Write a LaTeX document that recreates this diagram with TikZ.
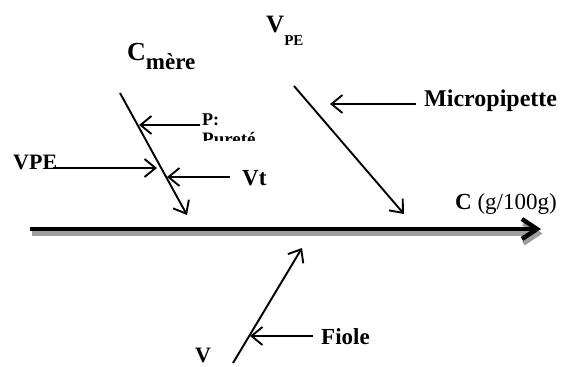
\documentclass[tikz,border=0pt]{standalone}
\usepackage{fontspec}
\setmainfont{Liberation Serif}
\usetikzlibrary{arrows.meta}
\begin{document}
\begin{tikzpicture}[x=1pt,y=-1pt,
  lbl/.style={inner sep=0pt, anchor=base west},
  fs/.style={font=\fontsize{#1}{#1}\selectfont\bfseries},
  thinarr/.style={line width=1.9pt, -{Straight Barb[length=11pt,width=18pt,line width=1.9pt]}},
  axisarr/.style={line width=4.5pt, -{Straight Barb[length=15pt,width=20pt,line width=4.5pt]}},
  shadowarr/.style={line width=4.5pt, black!38, -{Straight Barb[length=15pt,width=20pt,line width=4.5pt]}}]
\useasboundingbox (0,0) rectangle (563,367);
\clip (0,0) rectangle (563,367);

% main axis
\coordinate (a0) at (30,229);
\coordinate (a1) at (541,229);
\draw[shadowarr] ([shift={(1.5,4.5)}]a0) -- ([shift={(1.5,4.5)}]a1);
\draw[axisarr] (a0) -- (a1);
\node[lbl, font=\fontsize{23}{23}\selectfont] (cunit) at (455,209) {\textbf{C} (g/100g)};

% left branch
\coordinate (l0) at (120,93);
\coordinate (l1) at (187,215);
\draw[thinarr] (l0) -- (l1);
\node[lbl, fs=26] (cmere) at (127,60) {C\raisebox{-9pt}{\fontsize{23}{23}\selectfont mère}};
\node[lbl, fs=18] (p) at (202,125) {P:};
\begin{scope}
\clip (195,126) rectangle (270,140.5);
\node[lbl, fs=19] (pur) at (202,145) {Pureté};
\end{scope}
\coordinate (ps) at (200,125);
\coordinate (pt) at (139,125);
\draw[thinarr] (ps) -- (pt);
\node[lbl, fs=22] (vpe) at (13,169) {VPE};
\coordinate (vs) at (53,168);
\coordinate (vt) at (157,168);
\draw[thinarr] (vs) -- (vt);
\node[lbl, fs=23] (vtl) at (242,185) {Vt};
\coordinate (ts) at (230,177);
\coordinate (tt) at (167,177);
\draw[thinarr] (ts) -- (tt);

% right branch
\coordinate (r0) at (294,86);
\coordinate (r1) at (404,214);
\draw[thinarr] (r0) -- (r1);
\node[lbl, fs=25] (vpetop) at (266,32) {V\raisebox{-13pt}{\fontsize{15}{15}\selectfont PE}};
\node[lbl, fs=24] (micro) at (424,106) {Micropipette};
\coordinate (ms) at (416,104);
\coordinate (mt) at (330,104);
\draw[thinarr] (ms) -- (mt);

% bottom branch
\coordinate (b0) at (233,363);
\coordinate (b1) at (302,248);
\draw[thinarr] (b0) -- (b1);
\node[lbl, fs=23] (fiole) at (321,344) {Fiole};
\coordinate (fs0) at (313,336);
\coordinate (ft) at (250,336);
\draw[thinarr] (fs0) -- (ft);
\node[lbl, fs=22] (vbot) at (195,362) {V};
\end{tikzpicture}
\end{document}
